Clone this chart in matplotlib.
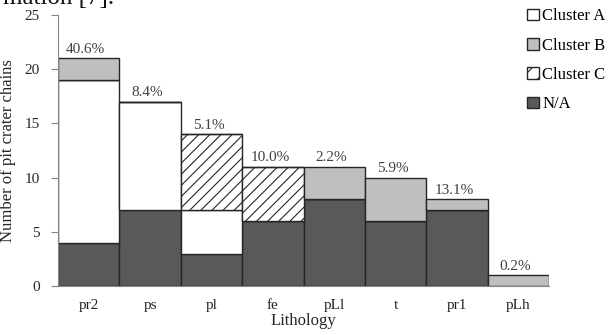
import numpy as np
import matplotlib
matplotlib.use("Agg")
import matplotlib.pyplot as plt
from matplotlib.patches import Patch

plt.rcParams['font.family'] = ['Liberation Serif', 'DejaVu Serif']
plt.rcParams['hatch.linewidth'] = 0.8

# データ
lithology = ["pr2", "ps", "pl", "fe", "pLl", "t", "pr1", "pLh"]
n_a = [4, 7, 3, 6, 8, 6, 7, 0]
cluster_a = [15, 10, 4, 0, 0, 0, 0, 0]
cluster_c = [0, 0, 7, 5, 0, 0, 0, 0]
cluster_b = [2, 0, 0, 0, 3, 4, 1, 1]
pct_labels = ["40.6%", "8.4%", "5.1%", "10.0%", "2.2%", "5.9%", "13.1%", "0.2%"]

dark = "#595959"
light = "#bfbfbf"
edge = "#262626"

fig = plt.figure(figsize=(6.14, 3.35), dpi=100)
ax = fig.add_axes([0.0945, 0.146, 0.8, 0.809])

x = np.arange(len(lithology))
b0 = np.zeros(len(x))
ax.bar(x, n_a, width=1.0, bottom=b0, color=dark, edgecolor=edge, linewidth=1)
b1 = b0 + np.array(n_a)
ax.bar(x, cluster_a, width=1.0, bottom=b1, color="white", edgecolor=edge, linewidth=1)
b2 = b1 + np.array(cluster_a)
ax.bar(x, cluster_c, width=1.0, bottom=b2, color="white", edgecolor=edge, linewidth=1, hatch="///")
b3 = b2 + np.array(cluster_c)
ax.bar(x, cluster_b, width=1.0, bottom=b3, color=light, edgecolor=edge, linewidth=1)
tot = b3 + np.array(cluster_b)

for xi, t, lab in zip(x, tot, pct_labels):
    ax.text(xi - 0.05, t + 0.25, lab, ha="center", va="bottom", fontsize=11, color="#404040")

ax.set_xlim(-0.5, 7.5)
ax.set_ylim(0, 25)
ax.set_yticks([0, 5, 10, 15, 20, 25])
ax.set_xticks(x)
ax.set_xticklabels(lithology)
ax.tick_params(axis="x", length=0, pad=9, labelsize=11, colors="#262626")
ax.tick_params(axis="y", length=5, direction="out", color="#868686", labelsize=11, labelcolor="#262626", pad=8)
for s in ["top", "right"]:
    ax.spines[s].set_visible(False)
ax.spines["left"].set_color("#868686")
ax.spines["bottom"].set_color("#868686")
ax.spines["bottom"].set_bounds(-0.55, 7.5)

ax.set_xlabel("Lithology", fontsize=12, labelpad=1, color="#262626")
ax.set_ylabel("Number of pit crater chains", fontsize=12, labelpad=6, color="#262626")

handles = [Patch(facecolor="white", edgecolor=edge, label="Cluster A"),
           Patch(facecolor=light, edgecolor=edge, label="Cluster B"),
           Patch(facecolor="white", edgecolor=edge, hatch="//", label="Cluster C"),
           Patch(facecolor=dark, edgecolor=edge, label="N/A")]
leg = fig.legend(handles=handles, loc="upper left", bbox_to_anchor=(0.848, 0.995),
                 frameon=False, fontsize=12, handlelength=0.7, handleheight=0.7,
                 handletextpad=0.2, labelspacing=0.8, borderaxespad=0)

fig.text(0.005, 1.04, "mation [7].", fontsize=18, va="top", ha="left", color="#111111")

fig.savefig("out.png", dpi=100)
